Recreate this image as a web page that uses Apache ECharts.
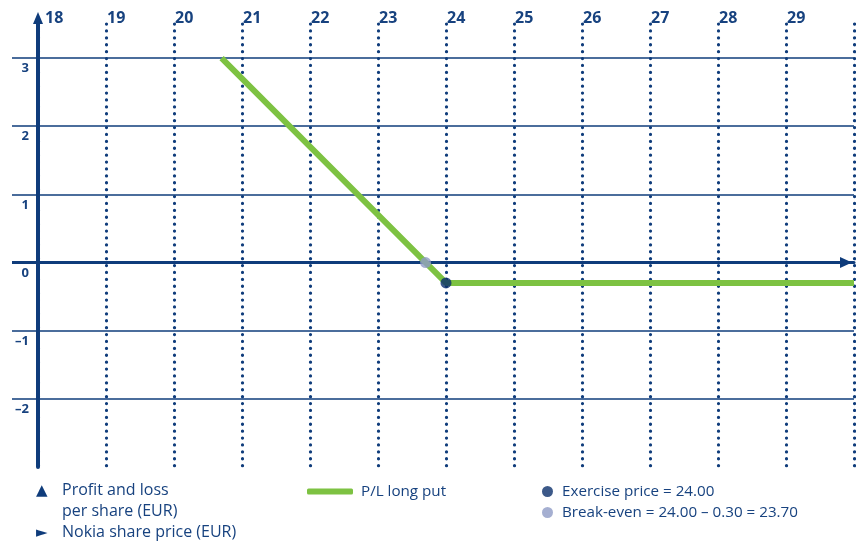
<!DOCTYPE html>
<html><head><meta charset="utf-8">
<script src="https://cdn.jsdelivr.net/npm/echarts@6/dist/echarts.min.js"></script>
<style>html,body{margin:0;padding:0;background:#fff}#c{width:856px;height:542px}</style>
</head><body><div id="c"></div>
<script>
// Data
const priceTicks = [18, 19, 20, 21, 22, 23, 24, 25, 26, 27, 28, 29];
const plTicks = [-2, -1, 0, 1, 2, 3];
const plLongPut = [[20.7, 3], [24, -0.3], [30, -0.3]];
const exercisePoint = [[24, -0.3]];
const breakEvenPoint = [[23.7, 0]];
const seriesNames = ['P/L long put', 'Exercise price = 24.00', 'Break-even = 24.00 – 0.30 = 23.70'];
const notes = ['Profit and loss', 'per share (EUR)', 'Nokia share price (EUR)'];

const NAVY = '#0f3c7b';
const TEXT = '#17427f';
const GREEN = '#7dc242';
const FONT = '"Open Sans", Lato, sans-serif';

const chart = echarts.init(document.getElementById('c'));
chart.setOption({
  animation: false,
  grid: {left: 38, right: 2, top: 24, bottom: 75},
  xAxis: [{
    type: 'value', min: 18, max: 30, interval: 1,
    axisLine: {show: true, onZero: true, onZeroAxisIndex: 0,
      lineStyle: {color: NAVY, width: 3},
      symbol: ['none', 'triangle'], symbolSize: [11, 12], symbolOffset: [0, -8]},
    axisTick: {show: false}, axisLabel: {show: false},
    splitLine: {show: true, lineStyle: {color: NAVY, width: 3.2, type: [0.1, 6.8], cap: 'round'}}
  }, {
    type: 'value', position: 'top', min: 18, max: 30, interval: 1,
    axisLine: {show: false}, axisTick: {show: false}, splitLine: {show: false},
    axisLabel: {
      show: true, customValues: priceTicks, align: 'left', verticalAlign: 'middle', margin: 6,
      color: TEXT, fontFamily: FONT, fontWeight: 'bold', fontSize: 16,
      formatter: v => v === 18 ? '{f|' + v + '}' : '{n|' + v + '}',
      rich: {
        f: {padding: [0, 0, 0, 7], color: TEXT, fontFamily: FONT, fontWeight: 'bold', fontSize: 16},
        n: {padding: [0, 0, 0, 1], color: TEXT, fontFamily: FONT, fontWeight: 'bold', fontSize: 16}
      }
    }
  }],
  yAxis: [{
    type: 'value', min: -3, max: 3.5, interval: 1,
    axisLine: {show: true, onZero: false, lineStyle: {color: NAVY, width: 4},
      symbol: ['none', 'triangle'], symbolSize: [10, 12], symbolOffset: [0, 6]},
    axisTick: {show: true, customValues: [-2, -1, 1, 2, 3], length: 26, inside: false,
      lineStyle: {color: NAVY, width: 1.5}},
    axisLabel: {
      show: true, customValues: plTicks, margin: 9, align: 'right', verticalAlign: 'top',
      padding: [4, 0, 0, 0],
      color: TEXT, fontFamily: FONT, fontWeight: 'bold', fontSize: 13,
      formatter: v => v < 0 ? '\u2013' + Math.abs(v) : String(v)
    },
    splitLine: {show: true, lineStyle: {color: NAVY, width: 1.5}}
  }, {
    type: 'value', min: -3, max: 3.5, interval: 1, position: 'left',
    axisLine: {show: false},
    axisTick: {show: true, customValues: [0], length: 26, inside: false, lineStyle: {color: NAVY, width: 3}},
    axisLabel: {show: false}, splitLine: {show: false}
  }],
  legend: [{
    data: [seriesNames[0]], left: 302, top: 479, orient: 'horizontal',
    itemWidth: 46, itemHeight: 6, icon: 'roundRect',
    textStyle: {color: TEXT, fontFamily: FONT, fontSize: 15.2, padding: [0, 0, 0, 3]}
  }, {
    data: [seriesNames[1], seriesNames[2]], left: 537, top: 479, orient: 'vertical', itemGap: 6,
    itemWidth: 11, itemHeight: 11, icon: 'circle',
    textStyle: {color: TEXT, fontFamily: FONT, fontSize: 15.2, padding: [0, 0, 0, 4]}
  }],
  graphic: [
    {type: 'text', left: 36, top: 484, style: {text: '\u25B2', fill: NAVY, font: '15px "DejaVu Sans"'}},
    {type: 'text', left: 62, top: 482, style: {text: notes[0], fill: TEXT, font: '16px ' + FONT}},
    {type: 'text', left: 62, top: 503, style: {text: notes[1], fill: TEXT, font: '16px ' + FONT}},
    {type: 'text', left: 36, top: 526, style: {text: '\u25BA', fill: NAVY, font: '15px "DejaVu Sans"'}},
    {type: 'text', left: 62, top: 524, style: {text: notes[2], fill: TEXT, font: '16px ' + FONT}}
  ],
  series: [{
    name: seriesNames[0], type: 'line', data: plLongPut, showSymbol: false, symbol: 'none',
    lineStyle: {color: GREEN, width: 6, cap: 'butt'}, itemStyle: {color: GREEN}, z: 3
  }, {
    name: seriesNames[2], type: 'scatter', data: breakEvenPoint, symbolSize: 11,
    itemStyle: {color: '#8e9bc6'}, z: 5
  }, {
    name: seriesNames[1], type: 'scatter', data: exercisePoint, symbolSize: 11,
    itemStyle: {color: '#0b2f6b'}, z: 5
  }]
});
</script></body></html>
